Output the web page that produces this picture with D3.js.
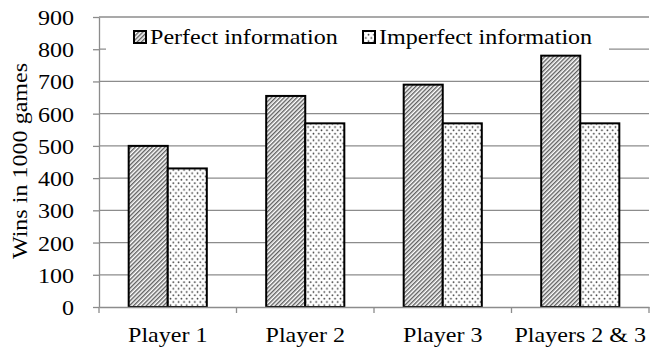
<!DOCTYPE html>
<html>
<head>
<meta charset="utf-8">
<script src="https://cdn.jsdelivr.net/npm/d3@7"></script>
<style>
  html, body { margin: 0; padding: 0; background: #fff; }
</style>
</head>
<body>
<svg id="chart" width="659" height="347"></svg>
<script>
const categories = ["Player 1", "Player 2", "Player 3", "Players 2 & 3"];
const seriesNames = ["Perfect information", "Imperfect information"];
const perfect = [500, 655, 690, 780];
const imperfect = [430, 570, 570, 570];
const yTicks = [0, 100, 200, 300, 400, 500, 600, 700, 800, 900];

const FONT = 21.5;     // base font size
const STRETCH = 1.12;  // widened lettering
const FAMILY = "'Liberation Serif', 'Times New Roman', serif";

const svg = d3.select("#chart");
const margin = { left: 99, right: 10, top: 17, bottom: 40 };
const W = 659, H = 347;

const defs = svg.append("defs");
// Diagonal hatch for perfect information
const hatch = defs.append("pattern").attr("id", "hatch").attr("patternUnits", "userSpaceOnUse")
  .attr("width", 3).attr("height", 3).attr("patternTransform", "rotate(45)");
hatch.append("rect").attr("width", 3).attr("height", 3).attr("fill", "#fff");
hatch.append("line").attr("x1", 0.75).attr("y1", 0).attr("x2", 0.75).attr("y2", 3)
  .attr("stroke", "#444").attr("stroke-width", 1.2);
// Dotted fill for imperfect information
const dots = defs.append("pattern").attr("id", "dots").attr("patternUnits", "userSpaceOnUse")
  .attr("width", 5.4).attr("height", 6.6);
dots.append("rect").attr("width", 5.4).attr("height", 6.6).attr("fill", "#fff");
dots.append("circle").attr("cx", 1.35).attr("cy", 1.65).attr("r", 0.85).attr("fill", "#3a3a3a");
dots.append("circle").attr("cx", 4.05).attr("cy", 4.95).attr("r", 0.85).attr("fill", "#3a3a3a");

const fills = ["url(#hatch)", "url(#dots)"];

const x = d3.scaleBand().domain(categories).range([margin.left, W - margin.right]).padding(0);
const x1 = d3.scaleBand().domain(seriesNames).range([0, x.bandwidth()]).paddingInner(0).paddingOuter(0.76);
const y = d3.scaleLinear().domain([0, 900]).range([H - margin.bottom, margin.top]);

const GRID = "#8c8c8c";

// Gridlines
svg.append("g").selectAll("line").data(yTicks.filter(d => d > 0)).join("line")
  .attr("x1", margin.left).attr("x2", W - margin.right)
  .attr("y1", d => y(d)).attr("y2", d => y(d))
  .attr("stroke", GRID).attr("stroke-width", 1.3);

// Y axis
const yAxis = svg.append("g").attr("transform", `translate(${margin.left},0)`)
  .call(d3.axisLeft(y).tickValues(yTicks).tickSize(6).tickPadding(19).tickSizeOuter(0));
yAxis.attr("font-family", null).attr("font-size", null);
yAxis.select(".domain").attr("stroke", GRID).attr("stroke-width", 1.3);
yAxis.selectAll(".tick line").attr("stroke", GRID).attr("stroke-width", 1.3);
yAxis.selectAll(".tick text").attr("dy", "0.35em");

// Legend, with a white backing over the gridline behind it
const legend = svg.append("g");
legend.append("rect").attr("x", 106).attr("y", 26).attr("width", 503).attr("height", 30).attr("fill", "#fff");
const legendX = [133, 362];
seriesNames.forEach((s, i) => {
  legend.append("rect").attr("x", legendX[i] + 1).attr("y", 31).attr("width", 12).attr("height", 12)
    .attr("fill", fills[i]).attr("stroke", "#000").attr("stroke-width", 2);
  legend.append("text").attr("x", legendX[i] + 17).attr("y", 44.5).text(s);
});

// Bars
const data = categories.map((c, i) => ({ c, vals: [perfect[i], imperfect[i]] }));
svg.append("g").selectAll("g").data(data).join("g")
  .attr("transform", d => `translate(${x(d.c)},0)`)
  .selectAll("rect").data(d => d.vals.map((v, i) => ({ v, s: seriesNames[i], i })))
  .join("rect")
  .attr("x", d => x1(d.s)).attr("width", x1.bandwidth())
  .attr("y", d => y(d.v)).attr("height", d => y(0) - y(d.v))
  .attr("fill", d => fills[d.i]).attr("stroke", "#000").attr("stroke-width", 2);

// X axis
const xAxis = svg.append("g").attr("transform", `translate(0,${y(0)})`)
  .call(d3.axisBottom(x).tickSize(0).tickSizeOuter(0));
xAxis.attr("font-family", null).attr("font-size", null);
xAxis.select(".domain").attr("stroke", GRID).attr("stroke-width", 1.3);
xAxis.selectAll(".tick text").attr("y", 35).attr("dy", 0);
// Category boundary ticks
const bounds = categories.map(c => x(c)).concat([x.range()[1]]);
svg.append("g").selectAll("line").data(bounds).join("line")
  .attr("x1", d => d).attr("x2", d => d).attr("y1", y(0)).attr("y2", y(0) + 6)
  .attr("stroke", GRID).attr("stroke-width", 1.3);

// Y title (drawn at the origin of its own rotated frame)
svg.append("text")
  .attr("transform", `translate(27,${(y(0) + y(900)) / 2 - 1}) rotate(-90)`)
  .attr("text-anchor", "middle").text("Wins in 1000 games");

// Serif lettering, widened along its baseline about its anchor point
svg.selectAll("text").each(function () {
  const t = d3.select(this)
    .style("font-family", FAMILY).style("font-size", FONT + "px").style("fill", "#000");
  const prev = t.attr("transform") || "";
  const ax = +(t.attr("x") || 0), ay = +(t.attr("y") || 0);
  t.attr("transform", `${prev} translate(${ax},${ay}) scale(${STRETCH},1) translate(${-ax},${-ay})`);
});
</script>
</body>
</html>
